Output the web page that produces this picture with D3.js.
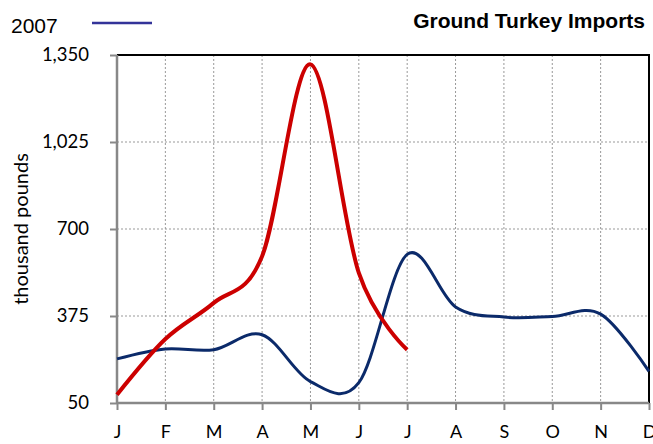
<!DOCTYPE html>
<html><head><meta charset="utf-8">
<script src="https://cdn.jsdelivr.net/npm/d3@7"></script>
<style>body{margin:0;background:#fff}svg{display:block}</style>
</head><body>
<script>
const months = ["J","F","M","A","M","J","J","A","S","O","N","D"];
const series2007 = [215, 252, 249, 305, 130, 126, 605, 409, 371, 373, 382, 168];
const seriesRed = [81, 289, 424, 598, 1315, 536, 249];
const yTicks = [50, 375, 700, 1025, 1350];
const title = "Ground Turkey Imports";
const legendLabel = "2007";
const yTitle = "thousand pounds";

const W = 653, H = 444;
const L = 117, R = 649, T = 55, B = 403;
const svg = d3.select("body").append("svg").attr("width", W).attr("height", H);

const x = d3.scalePoint().domain(d3.range(12)).range([L, R]);
const y = d3.scaleLinear().domain([50, 1350]).range([B, T]);

// gridlines
svg.append("g").selectAll("line.h").data(yTicks.slice(1, -1)).join("line")
  .attr("x1", L).attr("x2", R).attr("y1", d => y(d)).attr("y2", d => y(d))
  .attr("stroke", "#999").attr("stroke-width", 1).attr("stroke-dasharray", "2,2");
svg.append("g").selectAll("line.v").data(d3.range(1, 11)).join("line")
  .attr("x1", d => x(d)).attr("x2", d => x(d)).attr("y1", T).attr("y2", B)
  .attr("stroke", "#999").attr("stroke-width", 1).attr("stroke-dasharray", "2,2");

// top and right border
svg.append("line").attr("x1", L).attr("x2", R + 1).attr("y1", T).attr("y2", T)
  .attr("stroke", "#000").attr("stroke-width", 2);
svg.append("line").attr("x1", R).attr("x2", R).attr("y1", T).attr("y2", B)
  .attr("stroke", "#000").attr("stroke-width", 2);

// axes
const yAxis = svg.append("g").attr("transform", `translate(${L},0)`)
  .call(d3.axisLeft(y).tickValues(yTicks).tickFormat(d3.format(",")).tickSize(7).tickPadding(21));
const xAxis = svg.append("g").attr("transform", `translate(0,${B})`)
  .call(d3.axisBottom(x).tickFormat(i => months[i]).tickSize(7).tickPadding(15));
[yAxis, xAxis].forEach(g => {
  g.select(".domain").attr("stroke", "#888").attr("stroke-width", 2.5);
  g.selectAll(".tick line").attr("stroke", "#888").attr("stroke-width", 2);
  g.selectAll(".tick text").attr("fill", "#000").style("font-family", "Lato, 'Open Sans', sans-serif").style("font-size", "18.5px");
});
xAxis.selectAll(".tick text").style("font-size", "18px");
xAxis.select(".domain").attr("d", `M${L},0H${R}`);
yAxis.select(".domain").attr("d", `M0,${B}V${T}`);

const line = d3.line().x((d, i) => x(i)).y(d => y(d)).curve(d3.curveCardinal.tension(0));

svg.append("path").datum(series2007).attr("d", line).attr("fill", "none")
  .attr("stroke", "#0b2a6a").attr("stroke-width", 3);
svg.append("path").datum(seriesRed).attr("d", line).attr("fill", "none")
  .attr("stroke", "#cc0000").attr("stroke-width", 4);

// titles
svg.append("text").attr("x", 645).attr("y", 28).attr("text-anchor", "end")
  .style("font-family", "'Liberation Sans', Arial, sans-serif").style("font-weight", "bold").style("font-size", "21px")
  .text(title);
svg.append("text").attr("x", 11).attr("y", 33)
  .style("font-family", "'Liberation Sans', Arial, sans-serif").style("font-size", "21px")
  .text(legendLabel);
svg.append("line").attr("x1", 92).attr("x2", 152).attr("y1", 23).attr("y2", 23)
  .attr("stroke", "#333399").attr("stroke-width", 2.5);
svg.append("text").attr("transform", `translate(28,${(T + B) / 2}) rotate(-90)`)
  .attr("text-anchor", "middle")
  .style("font-family", "Lato, 'Open Sans', sans-serif").style("font-size", "20px")
  .text(yTitle);
</script>
</body></html>
